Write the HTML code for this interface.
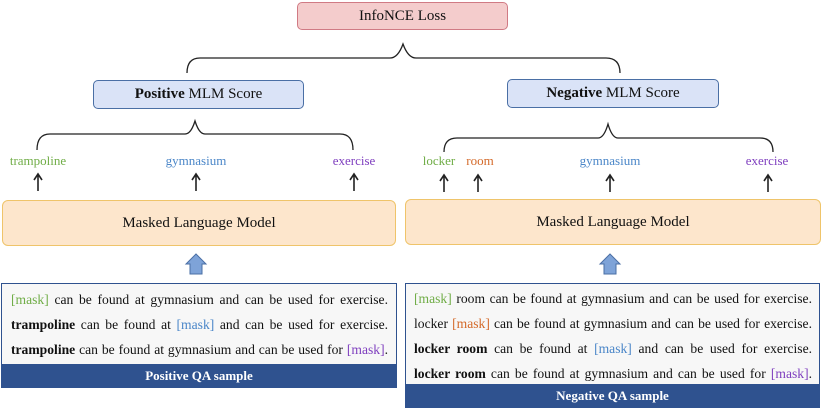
<!DOCTYPE html>
<html><head><meta charset="utf-8"><style>
body{margin:0;width:822px;height:409px;background:#fff;position:relative;font-family:"Liberation Serif",serif;color:#111;overflow:hidden}
.b{position:absolute;box-sizing:border-box;display:flex;align-items:center;justify-content:center}
.w{position:absolute;font-size:13px;transform:translateX(-50%);top:153px;white-space:nowrap}
.qa{position:absolute;box-sizing:border-box;border:1.5px solid #2f528f;background:#f7f7f7;font-size:13.6px}
.qa p{margin:0;text-align:justify;text-align-last:justify;height:25px;line-height:25px;white-space:nowrap}
.ft{position:absolute;left:0;right:0;bottom:0;height:23px;background:#2f528f;color:#fff;font-weight:bold;font-size:13px;text-align:center;line-height:23px}
.g{color:#70ad47}.bl{color:#4a86c8}.pu{color:#7f3fbf}.or{color:#d46a2a}
</style></head><body>
<div class="b" style="left:297px;top:2px;width:211px;height:28px;background:#f4cccc;border:1.5px solid #d07a84;border-radius:5px;font-size:15px">InfoNCE Loss</div>
<div class="b" style="left:93px;top:80px;width:211px;height:29px;background:#dae3f7;border:1.5px solid #4a6fa5;border-radius:5px;font-size:15px"><b>Positive</b>&nbsp;MLM Score</div>
<div class="b" style="left:507px;top:79px;width:212px;height:29px;background:#dae3f7;border:1.5px solid #4a6fa5;border-radius:5px;font-size:15px"><b>Negative</b>&nbsp;MLM Score</div>
<div class="b" style="left:2px;top:200px;width:394px;height:46px;background:#fde6cc;border:1.5px solid #efc46a;border-radius:6px;font-size:15px">Masked Language Model</div>
<div class="b" style="left:405px;top:199px;width:416px;height:46px;background:#fde6cc;border:1.5px solid #efc46a;border-radius:6px;font-size:15px">Masked Language Model</div>
<svg width="822" height="409" style="position:absolute;left:0;top:0" fill="none" stroke="#222" stroke-width="1.3">
<path d="M187 73 Q187 58 200 58 L390 58 Q398 58 403 44 Q408 58 416 58 L606 58 Q620 58 620 73"/>
<path d="M37 150 Q37 134 50 134 L185 134 Q191 134 195 121 Q199 134 205 134 L340 134 Q353 134 353 150"/>
<path d="M444 152 Q444 138 457 138 L598 138 Q604 138 608 124 Q612 138 618 138 L760 138 Q773 138 773 152"/>
<g stroke-width="1.6">
<path d="M38 191V175M34 180L38 174L42 180"/>
<path d="M196 191V175M192 180L196 174L200 180"/>
<path d="M354 191V175M350 180L354 174L358 180"/>
<path d="M444 192V176M440 181L444 175L448 181"/>
<path d="M478 192V176M474 181L478 175L482 181"/>
<path d="M610 192V176M606 181L610 175L614 181"/>
<path d="M768 192V176M764 181L768 175L772 181"/>
</g>
<path d="M190 274V264H186L196 254L206 264H202V274Z" fill="#7ea3d8" stroke="#4a6fa5" stroke-width="1"/>
<path d="M604 274V264H600L610 254L620 264H616V274Z" fill="#7ea3d8" stroke="#4a6fa5" stroke-width="1"/>
</svg>
<div class="w g" style="left:38px">trampoline</div>
<div class="w bl" style="left:196px">gymnasium</div>
<div class="w pu" style="left:354px">exercise</div>
<div class="w g" style="left:439px">locker</div>
<div class="w or" style="left:480px">room</div>
<div class="w bl" style="left:610px">gymnasium</div>
<div class="w pu" style="left:767px">exercise</div>
<div class="qa" style="left:1px;top:283px;width:396px;height:105px;padding:3px 8px 0 9px">
<p><span class="g">[mask]</span> can be found at gymnasium and can be used for exercise.</p>
<p><b>trampoline</b> can be found at <span class="bl">[mask]</span> and can be used for exercise.</p>
<p><b>trampoline</b> can be found at gymnasium and can be used for <span class="pu">[mask]</span>.</p>
<div class="ft">Positive QA sample</div></div>
<div class="qa" style="left:405px;top:283px;width:415px;height:125px;padding:2px 7px 0 8px">
<p><span class="g">[mask]</span> room can be found at gymnasium and can be used for exercise.</p>
<p>locker <span class="or">[mask]</span> can be found at gymnasium and can be used for exercise.</p>
<p><b>locker room</b> can be found at <span class="bl">[mask]</span> and can be used for exercise.</p>
<p><b>locker room</b> can be found at gymnasium and can be used for <span class="pu">[mask]</span>.</p>
<div class="ft">Negative QA sample</div></div>
</body></html>
